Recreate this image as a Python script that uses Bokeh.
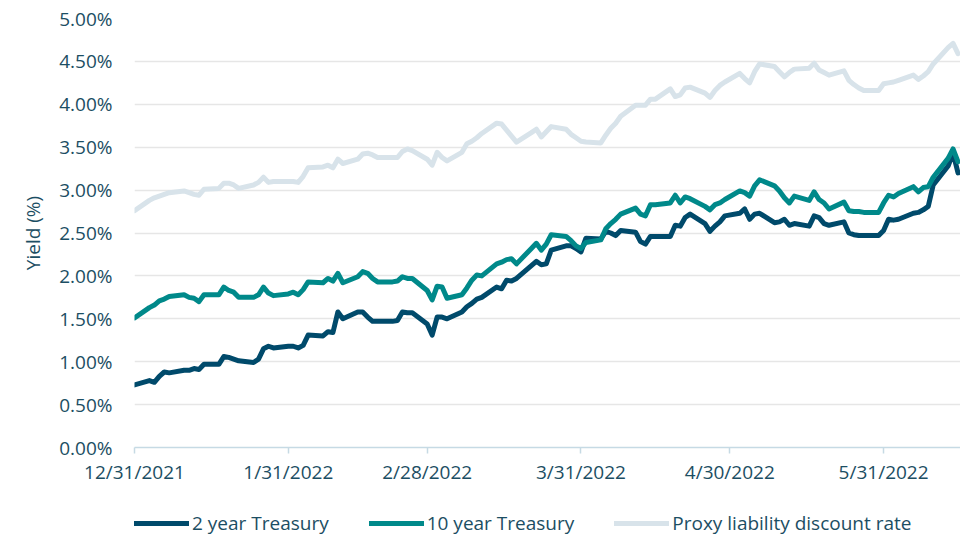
import pandas as pd
from bokeh.plotting import figure
from bokeh.layouts import column
from bokeh.models import FixedTicker, Legend, LegendItem, Range1d, ColumnDataSource
from bokeh.embed import file_html
from bokeh.resources import INLINE

# ---------------- data ----------------
start_date = "2021-12-31"
end_date = "2022-06-15"
dates = pd.bdate_range(start_date, end_date)  # weekdays (holidays carry previous value)

two_year = [
    0.73,
    0.78, 0.76, 0.83, 0.88, 0.87, 0.90, 0.90, 0.92, 0.91, 0.97, 0.97, 1.06, 1.05, 1.03, 1.01, 0.99, 1.03, 1.15, 1.18, 1.16, 1.18,
    1.18, 1.16, 1.19, 1.31, 1.30, 1.35, 1.34, 1.58, 1.50, 1.58, 1.58, 1.52, 1.47, 1.47, 1.47, 1.48, 1.58, 1.57, 1.57, 1.44,
    1.31, 1.52, 1.52, 1.50, 1.58, 1.64, 1.68, 1.73, 1.75, 1.87, 1.85, 1.95, 1.94, 1.97, 2.12, 2.17, 2.13, 2.14, 2.30, 2.35, 2.35, 2.32, 2.28,
    2.44, 2.43, 2.52, 2.50, 2.47, 2.53, 2.51, 2.40, 2.37, 2.46, 2.46, 2.46, 2.59, 2.58, 2.68, 2.72, 2.61, 2.52, 2.58, 2.63, 2.70,
    2.73, 2.78, 2.66, 2.72, 2.73, 2.62, 2.63, 2.66, 2.59, 2.61, 2.58, 2.70, 2.68, 2.61, 2.59, 2.63, 2.50, 2.48, 2.47, 2.47, 2.47, 2.53,
    2.66, 2.65, 2.66, 2.73, 2.74, 2.77, 2.81, 3.06, 3.28, 3.43, 3.20,
]

ten_year = [
    1.51,
    1.63, 1.66, 1.71, 1.73, 1.76, 1.78, 1.75, 1.74, 1.70, 1.78, 1.78, 1.87, 1.83, 1.81, 1.75, 1.75, 1.78, 1.87, 1.80, 1.77, 1.79,
    1.81, 1.78, 1.84, 1.93, 1.92, 1.97, 1.94, 2.03, 1.92, 1.99, 2.05, 2.03, 1.97, 1.93, 1.93, 1.94, 1.99, 1.97, 1.97, 1.83,
    1.72, 1.88, 1.87, 1.74, 1.78, 1.86, 1.95, 2.01, 2.00, 2.14, 2.16, 2.19, 2.20, 2.14, 2.32, 2.38, 2.30, 2.37, 2.48, 2.46, 2.41, 2.35, 2.32,
    2.39, 2.42, 2.55, 2.61, 2.66, 2.72, 2.79, 2.72, 2.70, 2.83, 2.83, 2.85, 2.94, 2.85, 2.92, 2.90, 2.81, 2.77, 2.83, 2.85, 2.89,
    2.99, 2.97, 2.93, 3.05, 3.12, 3.05, 2.99, 2.91, 2.85, 2.93, 2.88, 2.98, 2.89, 2.85, 2.78, 2.86, 2.76, 2.75, 2.75, 2.74, 2.74, 2.85,
    2.94, 2.92, 2.96, 3.04, 2.98, 3.03, 3.04, 3.15, 3.37, 3.48, 3.33,
]

proxy_rate = [
    2.76,
    2.88, 2.91, 2.93, 2.95, 2.97, 2.99, 2.97, 2.95, 2.94, 3.01, 3.02, 3.08, 3.08, 3.06, 3.02, 3.06, 3.09, 3.15, 3.09, 3.10, 3.10,
    3.10, 3.09, 3.16, 3.26, 3.27, 3.29, 3.26, 3.36, 3.31, 3.36, 3.42, 3.43, 3.41, 3.38, 3.38, 3.38, 3.45, 3.48, 3.46, 3.36,
    3.29, 3.44, 3.38, 3.34, 3.44, 3.54, 3.57, 3.61, 3.66, 3.78, 3.77, 3.70, 3.63, 3.56, 3.67, 3.71, 3.62, 3.68, 3.74, 3.71, 3.65, 3.61, 3.57,
    3.56, 3.55, 3.64, 3.72, 3.78, 3.86, 3.99, 3.99, 3.99, 4.06, 4.06, 4.18, 4.09, 4.11, 4.19, 4.20, 4.13, 4.08, 4.16, 4.22, 4.26,
    4.36, 4.30, 4.25, 4.38, 4.47, 4.44, 4.38, 4.32, 4.37, 4.41, 4.42, 4.48, 4.40, 4.37, 4.34, 4.39, 4.28, 4.23, 4.19, 4.16, 4.16, 4.24,
    4.25, 4.26, 4.28, 4.34, 4.29, 4.33, 4.38, 4.47, 4.66, 4.71, 4.59,
]

series_cols = ["two", "ten", "proxy"]
series_names = ["2 year Treasury", "10 year Treasury", "Proxy liability discount rate"]

x_tick_dates = ["2021-12-31", "2022-01-31", "2022-02-28", "2022-03-31", "2022-04-30", "2022-05-31"]
x_tick_labels = ["12/31/2021", "1/31/2022", "2/28/2022", "3/31/2022", "4/30/2022", "5/31/2022"]
y_ticks = [0.0, 0.5, 1.0, 1.5, 2.0, 2.5, 3.0, 3.5, 4.0, 4.5, 5.0]
y_tick_labels = ["0.00%", "0.50%", "1.00%", "1.50%", "2.00%", "2.50%", "3.00%", "3.50%", "4.00%", "4.50%", "5.00%"]

# ---------------- styles ----------------
FONT = "Open Sans"
TEXT = "#1C4E63"
COLORS = ["#004A6B", "#00898A", "#D8E3EA"]

t0 = pd.Timestamp(start_date)
xs = [(d - t0).days for d in dates]
x_ticks = [(pd.Timestamp(d) - t0).days for d in x_tick_dates]

src = ColumnDataSource(dict(x=xs, two=two_year, ten=ten_year, proxy=proxy_rate))

p = figure(width=960, height=490, output_backend="svg", toolbar_location=None,
           x_range=Range1d(0, 166.5), y_range=Range1d(0, 5),
           min_border_left=134, min_border_right=0, min_border_top=18, min_border_bottom=43)
p.outline_line_color = None

for col, c in zip(series_cols, COLORS):
    p.line("x", col, source=src, line_color=c, line_width=5, line_join="round", line_cap="round")

# y axis
p.yaxis.ticker = FixedTicker(ticks=y_ticks)
p.yaxis.major_label_overrides = dict(zip(y_ticks, y_tick_labels))
p.yaxis.axis_line_color = None
p.yaxis.major_tick_line_color = None
p.yaxis.minor_tick_line_color = None
p.yaxis.major_label_standoff = 16
p.yaxis.major_label_text_font = FONT
p.yaxis.major_label_text_font_size = "19px"
p.yaxis.major_label_text_color = TEXT
p.yaxis.axis_label = "Yield (%)"
p.yaxis.axis_label_text_font = FONT
p.yaxis.axis_label_text_font_size = "19px"
p.yaxis.axis_label_text_font_style = "normal"
p.yaxis.axis_label_text_color = TEXT
p.yaxis.axis_label_standoff = 10

# x axis
p.xaxis.ticker = FixedTicker(ticks=x_ticks)
p.xaxis.major_label_overrides = dict(zip(x_ticks, x_tick_labels))
p.xaxis.axis_line_color = "#C6DAE4"
p.xaxis.axis_line_width = 1.5
p.xaxis.major_tick_line_color = "#C6DAE4"
p.xaxis.major_tick_line_width = 1.5
p.xaxis.major_tick_in = 0
p.xaxis.major_tick_out = 6
p.xaxis.minor_tick_line_color = None
p.xaxis.major_label_standoff = 5
p.xaxis.major_label_text_font = FONT
p.xaxis.major_label_text_font_size = "19px"
p.xaxis.major_label_text_color = TEXT

p.xgrid.grid_line_color = None
p.ygrid.grid_line_color = "#E6E6E6"
p.ygrid.grid_line_width = 1.5

# ---------------- legend strip (series drawn out of view, legend inside its frame) ----------------
lg = figure(width=960, height=46, output_backend="svg", toolbar_location=None,
            x_range=Range1d(0, 166.5), y_range=Range1d(10, 11),
            x_axis_location=None, y_axis_location=None,
            min_border_left=0, min_border_right=0, min_border_top=0, min_border_bottom=0)
lg.outline_line_color = None
lg.grid.grid_line_color = None
items = []
for col, name, c in zip(series_cols, series_names, COLORS):
    r = lg.line("x", col, source=src, line_color=c, line_width=5, line_cap="round")
    items.append(LegendItem(label=name, renderers=[r]))
legend = Legend(items=items, orientation="horizontal", location=(0, 0), padding=0, margin=0,
                spacing=40, glyph_width=55, glyph_height=20, label_standoff=3,
                border_line_color=None, background_fill_alpha=0,
                label_text_font=FONT, label_text_font_size="19px", label_text_color=TEXT)
lg.add_layout(legend, "center")

layout = column(p, lg, spacing=0)
open("out.html", "w").write(file_html(layout, INLINE))
